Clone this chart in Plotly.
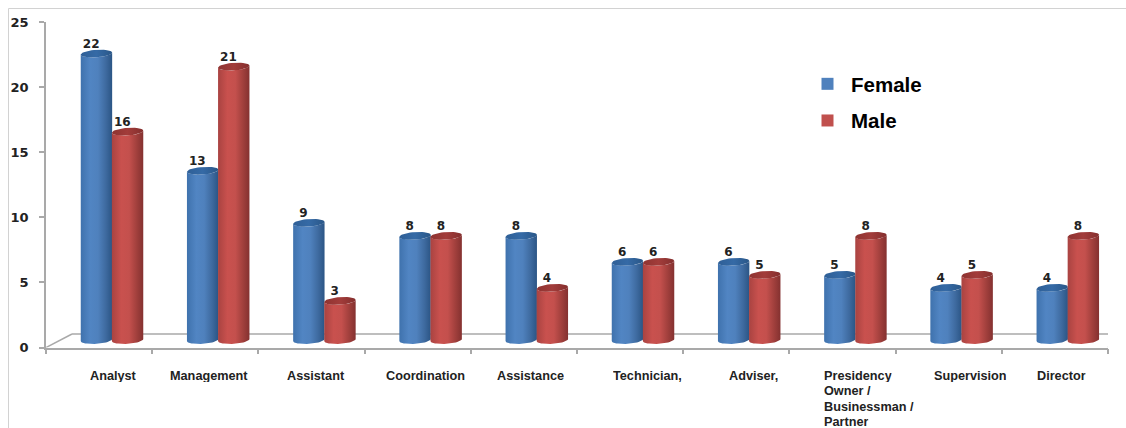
import math
import plotly.graph_objects as go

# Occupation categories and head counts per gender
categories = ["Analyst", "Management", "Assistant", "Coordination", "Assistance",
              "Technician,", "Adviser,", "Presidency<br>Owner /<br>Businessman /<br>Partner",
              "Supervision", "Director"]
female = [22, 13, 9, 8, 8, 6, 6, 5, 4, 4]
male = [16, 21, 3, 8, 4, 6, 5, 8, 5, 8]
y_ticks = [0, 5, 10, 15, 20, 25]

# Layout constants, in pixels of the 1126x428 page
W, H = 1126, 428
X0, X1 = 46, 1108
Y0, Y25 = 347.5, 22
BASE_LIFT = 7.5          # cylinders stand on the raised floor
DEPTH_X, DEPTH_Y = 26, 13.5
LABEL_LEFTS = [88.5, 168.5, 285.5, 384.5, 495.5, 611.5, 727.5, 822.5, 932.5, 1035.5]
LABEL_TOP_CENTRE = 376
LABEL_LINE_STEP = 15.3
PX_PER_CAT = (X1 - X0) / len(categories)
PX_PER_UNIT = (Y0 - Y25) / 25

HALF_W = 15.7 / PX_PER_CAT
RY = 3.8 / PX_PER_UNIT
TILT = 1.0 / PX_PER_UNIT
VALUE_LABEL_GAP = 3 / PX_PER_UNIT
OFFSETS = {"Female": -0.025, "Male": 0.268}

BLUE = [[0, "#3f72ad"], [0.3, "#5185c3"], [0.55, "#4f81bd"], [0.8, "#3e6a9f"], [1, "#2b5585"]]
BLUE_CAP = [[0, "#2f5f96"], [0.5, "#356aa6"], [1, "#2a5788"]]
RED = [[0, "#a94341"], [0.3, "#c9514e"], [0.55, "#c4504d"], [0.8, "#a03f3c"], [1, "#843130"]]
RED_CAP = [[0, "#8e3331"], [0.5, "#a23c3a"], [1, "#842f2e"]]


def arc(cx, cy, t0, t1, n=24):
    xs, ys = [], []
    for i in range(n + 1):
        t = t0 + (t1 - t0) * i / n
        c, s = math.cos(t), math.sin(t)
        xs.append(cx + HALF_W * c)
        ys.append(cy + RY * s + TILT * c)
    return xs, ys


def cylinder(fig, cx, value, body, cap):
    # Body: lower rim, up the right side, back along the top rim
    bx, by = arc(cx, 0, math.pi, 2 * math.pi)
    tx, ty = arc(cx, value, 0, -math.pi)
    fig.add_trace(go.Scatter(
        x=bx + tx + bx[:1], y=by + ty + by[:1], yaxis="y2", mode="lines",
        line=dict(width=0), fill="toself",
        fillgradient=dict(type="horizontal", colorscale=body),
        showlegend=False, hoverinfo="skip"))
    ex, ey = arc(cx, value, 0, 2 * math.pi, 40)
    fig.add_trace(go.Scatter(
        x=ex, y=ey, yaxis="y2", mode="lines", line=dict(width=0), fill="toself",
        fillgradient=dict(type="horizontal", colorscale=cap),
        showlegend=False, hoverinfo="skip"))


fig = go.Figure()

for i, (f, m) in enumerate(zip(female, male)):
    cylinder(fig, i + OFFSETS["Female"], f, BLUE, BLUE_CAP)
    cylinder(fig, i + OFFSETS["Male"], m, RED, RED_CAP)

# Value labels above each cylinder
for name, values in (("Female", female), ("Male", male)):
    fig.add_trace(go.Scatter(
        x=[i + OFFSETS[name] - 0.05 for i in range(len(values))],
        y=[v + VALUE_LABEL_GAP for v in values], yaxis="y2",
        mode="text", text=[str(v) for v in values], textposition="top center",
        textfont=dict(family="DejaVu Sans", size=12, color="#222222", weight="bold"),
        showlegend=False, hoverinfo="skip"))

# Legend entries
for name, colour in (("Female", "#4f81bd"), ("Male", "#c0504d")):
    fig.add_trace(go.Bar(x=[None], y=[None], name=name, legendgroup=name,
                         marker=dict(color=colour, line=dict(width=0))))

grid = "#a9a9a9"
dx = DEPTH_X / PX_PER_CAT
dy = DEPTH_Y / PX_PER_UNIT
shapes = [
    dict(type="line", xref="x", yref="y", x0=-0.5, y0=0, x1=-0.5 + dx, y1=dy,
         line=dict(color=grid, width=1.5), layer="below"),
    dict(type="line", xref="x", yref="y", x0=-0.5 + dx, y0=dy, x1=9.5 + 18 / PX_PER_CAT, y1=dy,
         line=dict(color=grid, width=1.5), layer="below"),
    dict(type="line", xref="x", yref="y", x0=9.5, y0=0, x1=9.5 + 18 / PX_PER_CAT, y1=dy,
         line=dict(color=grid, width=1.5), layer="below"),
    # Thin frame along the top and left of the page
    dict(type="line", xref="paper", yref="paper", x0=8.5 / W, y0=1 - 8.5 / H, x1=1, y1=1 - 8.5 / H,
         line=dict(color="#d2d2d2", width=1), layer="below"),
    dict(type="line", xref="paper", yref="paper", x0=8.5 / W, y0=1 - 8.5 / H, x1=8.5 / W, y1=0,
         line=dict(color="#d2d2d2", width=1), layer="below"),
]

# Category labels, one left-aligned annotation per text line
annotations = []
for label, left in zip(categories, LABEL_LEFTS):
    for k, line in enumerate(label.split("<br>")):
        annotations.append(dict(
            text=line, xref="x", yref="paper", x=(left - X0) / PX_PER_CAT - 0.5,
            y=1 - (LABEL_TOP_CENTRE + k * LABEL_LINE_STEP) / H,
            xanchor="left", yanchor="middle", align="left", showarrow=False,
            height=12, borderpad=0,
            font=dict(family="Liberation Sans", size=12.7, color="#222222", weight="bold")))

lift = BASE_LIFT / PX_PER_UNIT
fig.update_layout(
    width=W, height=H, margin=dict(l=0, r=0, t=0, b=0),
    paper_bgcolor="white", plot_bgcolor="rgba(0,0,0,0)",
    shapes=shapes, annotations=annotations,
    xaxis=dict(domain=[X0 / W, X1 / W], range=[-0.5, 9.5], tickmode="array", automargin=False,
               tickvals=[i - 0.5 for i in range(len(categories) + 1)],
               ticktext=[""] * (len(categories) + 1), ticks="outside", ticklen=5,
               tickcolor=grid, tickwidth=1.5, showgrid=False, zeroline=False,
               showline=True, linecolor=grid, linewidth=1.5),
    yaxis=dict(domain=[1 - Y0 / H, 1 - Y25 / H], range=[0, 25], tickmode="array", automargin=False,
               tickvals=y_ticks, ticks="outside", ticklen=5, tickcolor=grid, tickwidth=1.5,
               ticklabelstandoff=8, showgrid=False, zeroline=False,
               showline=True, linecolor=grid, linewidth=1.5,
               tickfont=dict(family="DejaVu Sans", size=13, color="#222222", weight="bold")),
    yaxis2=dict(domain=[1 - Y0 / H, 1 - Y25 / H], range=[-lift, 25 - lift], automargin=False,
                overlaying="y", visible=False),
    legend=dict(x=804 / W, y=1 - 64 / H, xanchor="left", yanchor="top",
                bgcolor="rgba(0,0,0,0)", tracegroupgap=7, itemwidth=37,
                font=dict(family="Liberation Sans", size=20.5, color="#000000", weight="bold")),
    showlegend=True,
)

fig.write_html("out.html", config=dict(displayModeBar=False))
